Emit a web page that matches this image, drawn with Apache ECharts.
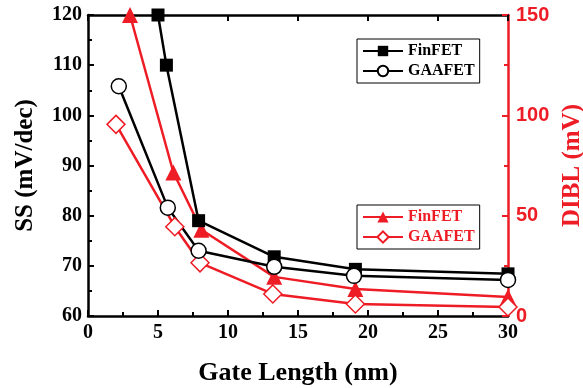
<!DOCTYPE html>
<html>
<head>
<meta charset="utf-8">
<script src="https://cdn.jsdelivr.net/npm/echarts@6/dist/echarts.min.js"></script>
<style>
html, body { margin: 0; padding: 0; background: #fff; }
#chart { width: 583px; height: 388px; }
</style>
</head>
<body>
<div id="chart"></div>
<script>
// 读图得到的数据
var ssFinX = [5.0, 5.6, 7.9, 13.3, 19.1, 30];
var ssFinY = [120, 110, 79, 71.8, 69.3, 68.4];
var ssGaaX = [2.2, 5.7, 7.9, 13.3, 19.0, 30];
var ssGaaY = [105.8, 81.6, 73, 69.8, 68, 67.2];
var dblFinX = [3.0, 6.1, 8.1, 13.3, 19.1, 30];
var dblFinY = [150, 71.5, 43, 19.5, 13.5, 9.5];
var dblGaaX = [2.0, 6.2, 8.0, 13.2, 19.1, 30];
var dblGaaY = [95.5, 44.5, 26.5, 11, 6, 4.5];

var xTicks = [0, 5, 10, 15, 20, 25, 30];
var red = '#ee1c25';
var serif = 'Liberation Serif';

function pairs(xs, ys) {
	var out = [];
	for (var i = 0; i < xs.length; i++) {
		out.push([xs[i], ys[i]]);
	}
	return out;
}

var myChart = echarts.init(document.getElementById('chart'));
var option = {
	backgroundColor: '#fff',
	animation: false,
	grid: { left: 88, right: 75, top: 15, bottom: 72, outerBoundsMode: 'none', containLabel: false },
	legend: [
		{
			data: ['SS FinFET', 'SS GAAFET'],
			orient: 'vertical',
			left: 357, top: 39,
			itemWidth: 40, itemHeight: 13, itemGap: 4,
			padding: [4, 5, 4, 5],
			borderColor: '#000', borderWidth: 1,
			formatter: function (name) { return name.split(' ')[1]; },
			textStyle: { fontFamily: serif, fontWeight: 'bold', fontSize: 16, color: '#000' }
		},
		{
			data: ['DIBL FinFET', 'DIBL GAAFET'],
			orient: 'vertical',
			left: 357, top: 205,
			itemWidth: 40, itemHeight: 14, itemGap: 4,
			padding: [4, 5, 4, 5],
			borderColor: '#000', borderWidth: 1,
			formatter: function (name) { return name.split(' ')[1]; },
			textStyle: { fontFamily: serif, fontWeight: 'bold', fontSize: 16, color: red }
		}
	],
	xAxis: [
		{
			type: 'value', min: 0, max: 30, interval: 5,
			name: 'Gate Length (nm)', nameLocation: 'middle', nameGap: 44,
			nameTextStyle: { fontFamily: serif, fontWeight: 'bold', fontSize: 26, color: '#000' },
			axisLine: { onZero: false, lineStyle: { color: '#000', width: 2.5 } },
			axisTick: { inside: true, length: 6, lineStyle: { width: 2 } },
			minorTick: { show: true, splitNumber: 2, length: 4, lineStyle: { color: '#000', width: 2 } },
			axisLabel: {
				fontFamily: serif, fontWeight: 'bold', fontSize: 20, color: '#000', margin: 7,
				formatter: function (v) { return xTicks.indexOf(v) >= 0 ? String(v) : ''; }
			},
			splitLine: { show: false }
		},
		{
			type: 'value', position: 'top', min: 0, max: 30, interval: 5,
			axisLine: { onZero: false, lineStyle: { color: '#000', width: 2.5 } },
			axisTick: { inside: true, length: 6, lineStyle: { width: 2 } },
			minorTick: { show: false },
			axisLabel: { show: false },
			splitLine: { show: false }
		}
	],
	yAxis: [
		{
			type: 'value', min: 60, max: 120, interval: 10,
			name: 'SS (mV/dec)', nameLocation: 'middle', nameGap: 50, nameRotate: 90,
			nameTextStyle: { fontFamily: serif, fontWeight: 'bold', fontSize: 25, color: '#000' },
			axisLine: { show: true, onZero: false, lineStyle: { color: '#000', width: 2.5 } },
			axisTick: { show: true, inside: true, length: 6, lineStyle: { width: 2 } },
			minorTick: { show: true, splitNumber: 2, length: 4, lineStyle: { color: '#000', width: 2 } },
			axisLabel: { fontFamily: serif, fontWeight: 'bold', fontSize: 20, color: '#000', margin: 6 },
			splitLine: { show: false }
		},
		{
			type: 'value', position: 'right', min: 0, max: 150, interval: 50,
			name: 'DIBL (mV)', nameLocation: 'middle', nameGap: 52, nameRotate: 90,
			nameTextStyle: { fontFamily: serif, fontWeight: 'bold', fontSize: 25, color: red },
			axisLine: { show: true, onZero: false, lineStyle: { color: red, width: 2.5 } },
			axisTick: { show: true, inside: true, length: 6, lineStyle: { color: red, width: 2 } },
			minorTick: { show: true, splitNumber: 2, length: 4, lineStyle: { color: red, width: 2 } },
			axisLabel: { fontFamily: 'Liberation Sans', fontWeight: 'bold', fontSize: 20, color: red, margin: 8 },
			splitLine: { show: false }
		}
	],
	series: [
		{
			name: 'DIBL FinFET', type: 'line', xAxisIndex: 0, yAxisIndex: 1,
			data: pairs(dblFinX, dblFinY),
			symbol: 'triangle', symbolSize: 16,
			lineStyle: { color: red, width: 2.5 },
			itemStyle: { color: red }
		},
		{
			name: 'DIBL GAAFET', type: 'line', xAxisIndex: 0, yAxisIndex: 1,
			data: pairs(dblGaaX, dblGaaY),
			symbol: 'diamond', symbolSize: 18,
			lineStyle: { color: red, width: 2.5 },
			itemStyle: { color: '#fff', borderColor: red, borderWidth: 1.5 }
		},
		{
			name: 'SS FinFET', type: 'line', xAxisIndex: 0, yAxisIndex: 0,
			data: pairs(ssFinX, ssFinY),
			symbol: 'rect', symbolSize: 13,
			lineStyle: { color: '#000', width: 2.5 },
			itemStyle: { color: '#000' }
		},
		{
			name: 'SS GAAFET', type: 'line', xAxisIndex: 0, yAxisIndex: 0,
			data: pairs(ssGaaX, ssGaaY),
			symbol: 'circle', symbolSize: 15,
			lineStyle: { color: '#000', width: 2.5 },
			itemStyle: { color: '#fff', borderColor: '#000', borderWidth: 1.5 }
		}
	]
};
myChart.setOption(option);
</script>
</body>
</html>
